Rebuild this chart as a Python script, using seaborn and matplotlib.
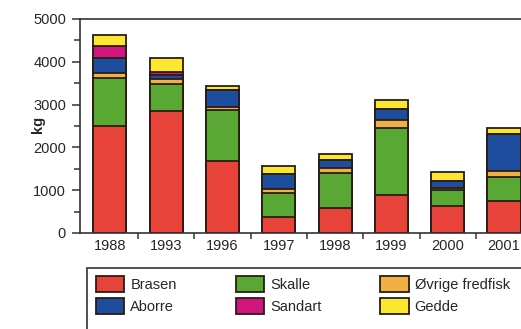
import pandas as pd
import matplotlib.pyplot as plt
import seaborn as sns
from matplotlib.patches import Patch, Rectangle
from matplotlib.ticker import MultipleLocator, FixedLocator

# Data (kg per year and species)
years = ["1988", "1993", "1996", "1997", "1998", "1999", "2000", "2001"]
brasen = [2510, 2850, 1680, 380, 590, 880, 630, 750]
skalle = [1120, 640, 1190, 550, 810, 1580, 380, 550]
ovrige = [110, 110, 70, 90, 115, 170, 40, 150]
aborre = [350, 90, 410, 350, 190, 265, 170, 860]
sandart = [280, 60, 0, 0, 0, 0, 0, 0]
gedde = [250, 340, 90, 200, 130, 220, 195, 140]

species = ["Brasen", "Skalle", "Øvrige fredfisk", "Aborre", "Sandart", "Gedde"]
colors = ["#e8433a", "#58a833", "#f0b043", "#1f4d9e", "#d0157c", "#fbe82e"]
edge = "#2a1c14"

sns.set_theme(style="ticks")
plt.rcParams["font.family"] = ["Liberation Sans", "DejaVu Sans"]
plt.rcParams["font.size"] = 10.5

df = pd.DataFrame({"year": years, "Brasen": brasen, "Skalle": skalle,
                   "Øvrige fredfisk": ovrige, "Aborre": aborre,
                   "Sandart": sandart, "Gedde": gedde})
cum = df[species].cumsum(axis=1)
cum["year"] = df["year"]

fig = plt.figure(figsize=(5.21, 3.29), dpi=100)
ax = fig.add_axes([80 / 521, 1 - 233 / 329, 441 / 521, 214 / 329])

# stack by drawing cumulative totals from the top layer down
for sp, c in reversed(list(zip(species, colors))):
    sns.barplot(data=cum, x="year", y=sp, order=years, color=c,
                width=0.59, edgecolor=edge, linewidth=1.3, ax=ax,
                saturation=1)

ax.set_xlim(-0.53, 7.30)
ax.set_ylim(0, 5000)
ax.set_xlabel("")
ax.set_ylabel("kg", fontweight="bold", fontsize=10.5)
ax.yaxis.set_label_coords(-0.08, 0.505)

for s in ["left", "bottom", "top"]:
    ax.spines[s].set_visible(True)
    ax.spines[s].set_color("#333333")
    ax.spines[s].set_linewidth(1.2)
ax.spines["right"].set_visible(False)

ax.yaxis.set_major_locator(MultipleLocator(1000))
ax.yaxis.set_minor_locator(MultipleLocator(500))
ax.tick_params(axis="y", which="major", length=6, width=1.1, color="#333333",
               labelsize=10.5, pad=4)
ax.tick_params(axis="y", which="minor", length=4, width=1.1, color="#333333")

ax.xaxis.set_major_locator(FixedLocator(range(len(years))))
ax.set_xticklabels(years)
ax.xaxis.set_minor_locator(FixedLocator([i + 0.5 for i in range(len(years) - 1)]))
ax.tick_params(axis="x", which="major", length=0, labelsize=10.5, pad=4)
ax.tick_params(axis="x", which="minor", length=4, width=1.1, color="#333333")

# legend: fill column-wise so rows read Brasen/Skalle/Øvrige, Aborre/Sandart/Gedde
handles = [Patch(facecolor=c, edgecolor=edge, linewidth=1.3) for c in colors]
order = [0, 3, 1, 4, 2, 5]
leg = fig.legend([handles[i] for i in order], [species[i] for i in order],
                 ncol=3, loc="upper left", bbox_to_anchor=(96 / 521, 1 - 276 / 329),
                 bbox_transform=fig.transFigure, borderaxespad=0, borderpad=0,
                 frameon=False, fontsize=10.5,
                 handlelength=1.95, handleheight=1.3, handletextpad=0.4,
                 columnspacing=4.05, labelspacing=0.4)

# legend frame runs off the right and bottom edges of the picture
fig.patches.append(Rectangle((87 / 521, -0.05), 0.9, 1 - 268 / 329 + 0.05,
                             transform=fig.transFigure, fill=False,
                             edgecolor="#333333", linewidth=1.2))

fig.savefig("out.png", dpi=100)
